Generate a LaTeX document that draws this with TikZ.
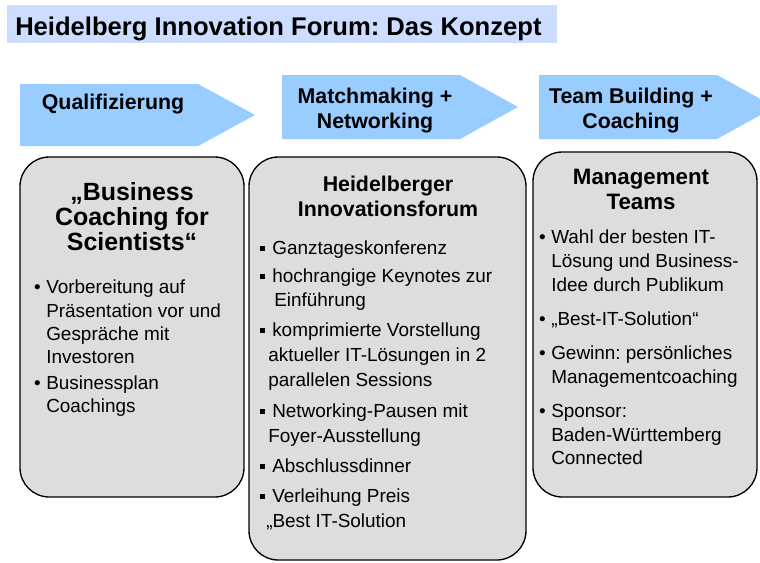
\documentclass[tikz,border=0pt]{standalone}
\usepackage{fontspec}
\setmainfont{Liberation Sans}
\frenchspacing
\definecolor{titlebg}{RGB}{204,221,255}
\definecolor{arrowbg}{RGB}{153,204,255}
\definecolor{boxbg}{RGB}{221,221,221}
\newcommand\rbul{\llap{•\hspace{4.2pt}}}
\newcommand\sbul{\llap{\raisebox{2.25pt}{\rule{3.75pt}{3.75pt}}\hspace{5.6pt}}}
\begin{document}
\begin{tikzpicture}[x=0.75pt,y=-0.75pt,
  bodytxt/.style={anchor=base west,inner sep=0pt,font=\fontsize{14.2}{17}\selectfont},
  headtxt/.style={anchor=base,inner sep=0pt,font=\bfseries\fontsize{16}{19}\selectfont},
  phasebox/.style={fill=arrowbg,draw=none},
  cardbox/.style={fill=boxbg,draw=black,line width=1pt,rounded corners=22pt}]
\clip (0,0) rectangle (760,562);
\fill[white] (0,0) rectangle (760,562);

% title bar
\fill[titlebg] (7,5) rectangle (557,43);
\node[anchor=base west,inner sep=0pt,font=\bfseries\fontsize{19.2}{23}\selectfont] (title) at (15,35) {Heidelberg Innovation Forum: Das Konzept};

% phase arrows
\path[phasebox] (20,84) -- (198,84) -- (255,115) -- (198,146) -- (20,146) -- cycle;
\path[phasebox] (282,75) -- (460,75) -- (518,107) -- (460,139) -- (282,139) -- cycle;
\path[phasebox] (539,75) -- (717,75) -- (775,107) -- (717,139) -- (539,139) -- cycle;
\node[headtxt] (a1) at (113,109) {Qualifizierung};
\node[headtxt] (a2a) at (375,103) {Matchmaking +};
\node[headtxt] (a2b) at (375,128) {Networking};
\node[headtxt] (a3a) at (631,103) {Team Building +};
\node[headtxt] (a3b) at (631,128) {Coaching};

% cards
\draw[cardbox] (20,157) rectangle (244,497);
\draw[cardbox] (249,157) rectangle (526,560);
\draw[cardbox] (533,152) rectangle (757,497);

% card 1
\node[headtxt,font=\bfseries\fontsize{18.7}{22}\selectfont] (c1t1) at (132,200) {„Business};
\node[headtxt,font=\bfseries\fontsize{18.7}{22}\selectfont] (c1t2) at (132,225) {Coaching for};
\node[headtxt,font=\bfseries\fontsize{18.7}{22}\selectfont] (c1t3) at (132,250) {Scientists“};
\node[bodytxt] (c1l1) at (46,293) {\rbul Vorbereitung auf};
\node[bodytxt] (c1l2) at (46,317) {Präsentation vor und};
\node[bodytxt] (c1l3) at (46,340) {Gespräche mit};
\node[bodytxt] (c1l4) at (46,363) {Investoren};
\node[bodytxt] (c1l5) at (46,389) {\rbul Businessplan};
\node[bodytxt] (c1l6) at (46,412) {Coachings};

% card 2
\node[headtxt] (c2t1) at (388,191) {Heidelberger};
\node[headtxt] (c2t2) at (388,216) {Innovationsforum};
\node[bodytxt] (c2l1) at (272,254) {\sbul Ganztageskonferenz};
\node[bodytxt] (c2l2) at (272,282) {\sbul hochrangige Keynotes zur};
\node[bodytxt] (c2l3) at (274,306) {Einführung};
\node[bodytxt] (c2l4) at (272,336) {\sbul komprimierte Vorstellung};
\node[bodytxt] (c2l5) at (268,361) {aktueller IT-Lösungen in 2};
\node[bodytxt] (c2l6) at (268,386) {parallelen Sessions};
\node[bodytxt] (c2l7) at (272,417) {\sbul Networking-Pausen mit};
\node[bodytxt] (c2l8) at (268,442) {Foyer-Ausstellung};
\node[bodytxt] (c2l9) at (272,472) {\sbul Abschlussdinner};
\node[bodytxt] (c2l10) at (272,502) {\sbul Verleihung Preis};
\node[bodytxt] (c2l11) at (266,527) {„Best IT-Solution};

% card 3
\node[headtxt,font=\bfseries\fontsize{16.7}{20}\selectfont] (c3t1) at (641,184) {Management};
\node[headtxt,font=\bfseries\fontsize{16.7}{20}\selectfont] (c3t2) at (641,209) {Teams};
\node[bodytxt] (c3l1) at (551,243) {\rbul Wahl der besten IT-};
\node[bodytxt] (c3l2) at (551,267) {Lösung und Business-};
\node[bodytxt] (c3l3) at (551,291) {Idee durch Publikum};
\node[bodytxt] (c3l4) at (551,325) {\rbul „Best-IT-Solution“};
\node[bodytxt] (c3l5) at (551,359) {\rbul Gewinn: persönliches};
\node[bodytxt] (c3l6) at (551,383) {Managementcoaching};
\node[bodytxt] (c3l7) at (551,417) {\rbul Sponsor:};
\node[bodytxt] (c3l8) at (551,441) {Baden-Württemberg};
\node[bodytxt] (c3l9) at (551,464) {Connected};
\end{tikzpicture}
\end{document}
